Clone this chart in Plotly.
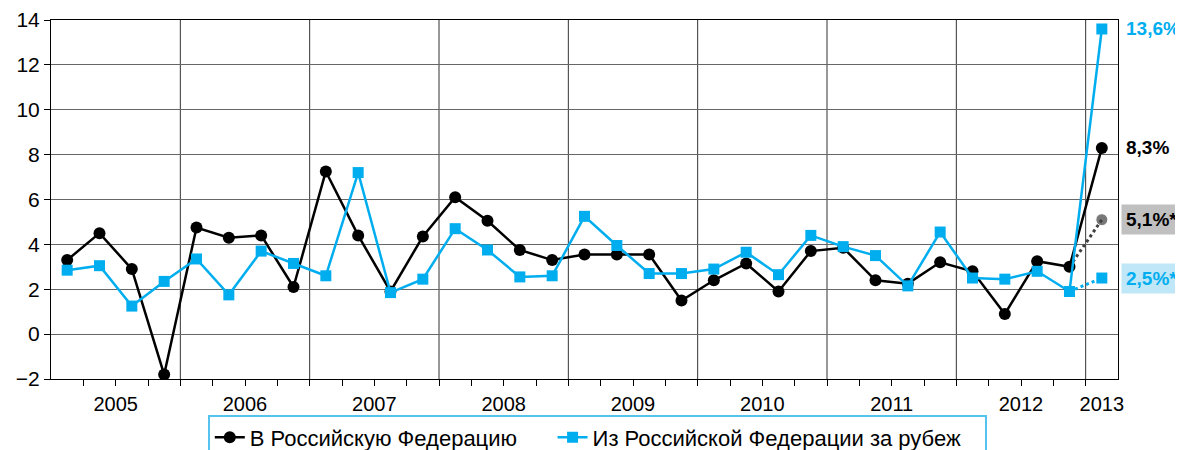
import plotly.graph_objects as go

# ---------------- data ----------------
years = ["2005", "2006", "2007", "2008", "2009", "2010", "2011", "2012", "2013"]
quarters_per_year = [4, 4, 4, 4, 4, 4, 4, 4, 1]

# В Российскую Федерацию (black)
inflow = [3.3, 4.5, 2.9, -1.8,
          4.75, 4.3, 4.4, 2.1,
          7.25, 4.4, 1.9, 4.35,
          6.1, 5.05, 3.75, 3.3,
          3.55, 3.55, 3.55, 1.5,
          2.4, 3.15, 1.9, 3.7,
          3.85, 2.4, 2.25, 3.2,
          2.8, 0.9, 3.25, 3.0,
          8.3]
# Из Российской Федерации за рубеж (blue)
outflow = [2.85, 3.05, 1.25, 2.35,
           3.35, 1.75, 3.7, 3.15,
           2.6, 7.2, 1.85, 2.45,
           4.7, 3.75, 2.55, 2.6,
           5.25, 3.95, 2.7, 2.7,
           2.9, 3.65, 2.65, 4.4,
           3.9, 3.5, 2.15, 4.55,
           2.5, 2.45, 2.8, 1.9,
           13.6]
# estimates for 2013 Q1 (dotted)
inflow_est = 5.1
outflow_est = 2.5

label_inflow = "8,3%"
label_outflow = "13,6%"
label_inflow_est = "5,1%*"
label_outflow_est = "2,5%*"

series_names = ["В Российскую Федерацию", "Из Российской Федерации за рубеж"]

BLUE = "#00aeef"
BLACK = "#000000"
GRAY = "#404040"
FONT = "Liberation Sans, Arial, sans-serif"
NBSP = "\u00a0"

# ---------------- positions derived from categories ----------------
x = list(range(len(inflow)))
year_centers, year_bounds = [], []
start = 0
for n in quarters_per_year:
    year_centers.append(start + (n - 1) / 2)
    start += n
    year_bounds.append(start - 0.5)
year_bounds = year_bounds[:-1]
quarter_bounds = [i + 0.5 for i in range(len(inflow) - 1)]
xrange = [-0.5, len(inflow) - 0.5]

fig = go.Figure()

# invisible trace that carries the year-label axis
fig.add_trace(go.Scatter(x=year_centers, y=[None] * len(year_centers),
                         xaxis="x2", mode="markers", showlegend=False,
                         hoverinfo="skip"))

# dotted estimate lines
fig.add_trace(go.Scatter(
    x=[x[-2], x[-1]], y=[inflow[-2], inflow_est], mode="lines+markers",
    line=dict(color=GRAY, width=3, dash="dot"),
    marker=dict(symbol="circle", size=[0, 12], color=GRAY),
    showlegend=False, hoverinfo="skip"))
fig.add_trace(go.Scatter(
    x=[x[-2], x[-1]], y=[outflow[-2], outflow_est], mode="lines+markers",
    line=dict(color=BLUE, width=3, dash="dot"),
    marker=dict(symbol="square", size=11, color=BLUE),
    showlegend=False, hoverinfo="skip"))

fig.add_trace(go.Scatter(
    x=x, y=inflow, name=series_names[0] + NBSP * 5, mode="lines+markers",
    line=dict(color=BLACK, width=2.5),
    marker=dict(symbol="circle", size=12, color=BLACK)))
fig.add_trace(go.Scatter(
    x=x, y=outflow, name=series_names[1] + NBSP * 3, mode="lines+markers",
    line=dict(color=BLUE, width=2.5),
    marker=dict(symbol="square", size=11, color=BLUE)))

# year boundary gridlines
for b in year_bounds:
    fig.add_vline(x=b, line=dict(color="#333333", width=1), layer="below")

# right-hand value labels
ann = [
    (outflow[-1], label_outflow, BLUE, None),
    (inflow[-1], label_inflow, BLACK, None),
    (inflow_est, label_inflow_est, BLACK, "#c0c0c0"),
    (outflow_est, label_outflow_est, BLUE, "#bfe7f8"),
]
for yv, txt, col, bg in ann:
    fig.add_annotation(
        x=1.003, xref="paper", y=yv, yref="y", text="<b>" + txt + "</b>",
        showarrow=False, xanchor="left", yanchor="middle",
        font=dict(family=FONT, size=19, color=col),
        bgcolor=bg if bg else "rgba(0,0,0,0)", borderpad=4)

# page body adds an 8px offset, so the figure is slightly smaller than the window
fig.update_layout(
    width=1175, height=442,
    margin=dict(l=43, r=65, t=12, b=71, autoexpand=False),
    paper_bgcolor="white", plot_bgcolor="white",
    font=dict(family=FONT, size=20, color="black"),
    showlegend=True,
    legend=dict(
        orientation="h", x=0.512, xanchor="center", y=-0.099, yanchor="top",
        bordercolor="#55c3ee", borderwidth=2, bgcolor="white",
        font=dict(family=FONT, size=22, color="black"),
        itemwidth=30, traceorder="normal"),
    xaxis=dict(
        range=xrange, tickmode="array", tickvals=quarter_bounds,
        ticktext=[""] * len(quarter_bounds),
        ticks="outside", ticklen=6, tickcolor="black",
        showgrid=False, zeroline=False, automargin=False,
        showline=True, linecolor="black", linewidth=1, mirror=True,
    ),
    xaxis2=dict(
        range=xrange, overlaying="x", anchor="y", side="bottom",
        tickmode="array", tickvals=year_centers, ticktext=years,
        ticks="outside", ticklen=7, tickcolor="rgba(0,0,0,0)",
        showgrid=False, zeroline=False, showline=False,
        automargin=False, tickfont=dict(family=FONT, size=20),
    ),
    yaxis=dict(
        range=[-2, 14], tickmode="array", tickvals=list(range(-2, 15, 2)),
        ticks="outside", ticklen=6, tickcolor="black",
        showgrid=True, gridcolor="#666666", gridwidth=1, zeroline=False,
        showline=True, linecolor="black", linewidth=1, mirror=True,
        automargin=False, tickfont=dict(family=FONT, size=21),
    ),
)

fig.write_html("out.html")
